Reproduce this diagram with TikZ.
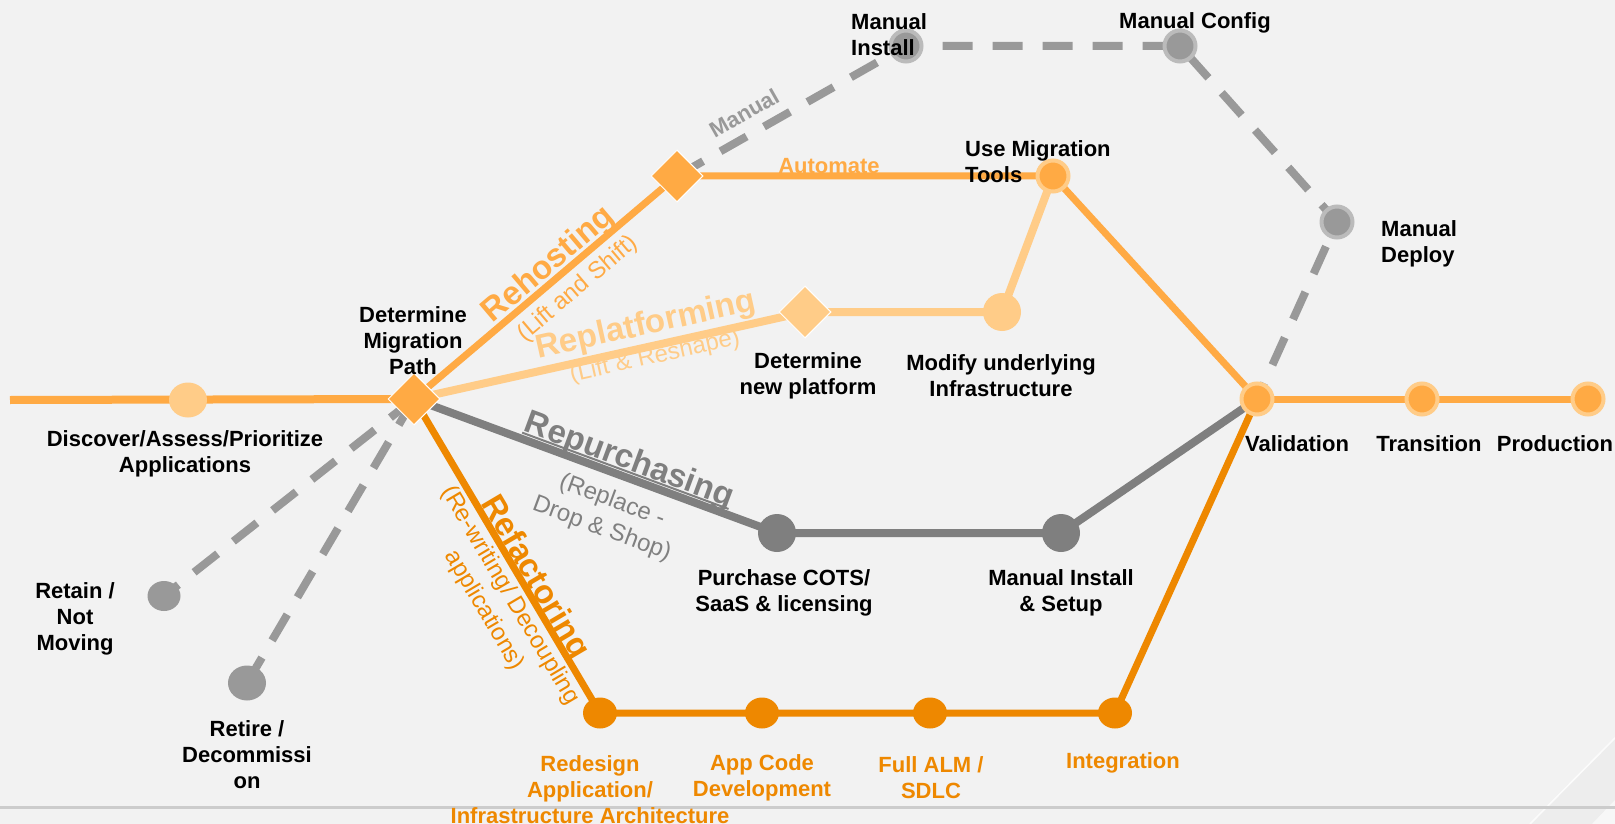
\documentclass[tikz,border=0pt]{standalone}
\usepackage{fontspec}
\setmainfont{Liberation Sans}
\usetikzlibrary{shapes.geometric}
\definecolor{bgc}{HTML}{F2F2F2}
\definecolor{orA}{HTML}{FFAA44}
\definecolor{orL}{HTML}{FFCC88}
\definecolor{orD}{HTML}{EE8800}
\definecolor{grP}{HTML}{7F7F7F}
\definecolor{grD}{HTML}{999999}
\definecolor{grR}{HTML}{BBBBBB}
\definecolor{subG}{HTML}{808080}
\definecolor{cornA}{HTML}{EDEDED}
\definecolor{cornB}{HTML}{F7F7F7}
\definecolor{baseL}{HTML}{CCCCCC}
\pgfdeclarelayer{bglayer}
\pgfdeclarelayer{lines}
\pgfsetlayers{bglayer,lines,main}
\newcommand\hul[1]{\setbox0=\hbox{#1}\rlap{\rule[-3pt]{\wd0}{2pt}}\box0}
\begin{document}
\begin{tikzpicture}[x=1pt,y=-1pt,
  lab/.style={font=\fontsize{22}{26}\selectfont\bfseries, align=center, inner sep=0pt},
  head/.style={font=\fontsize{33}{38}\selectfont\bfseries, inner sep=0pt},
  sub/.style={font=\fontsize{24}{30}\selectfont, align=center, inner sep=0pt},
  pathline/.style={line width=7pt},
  dashline/.style={line width=8pt, draw=grD, dash pattern=on 30pt off 20pt},
  diam/.style={diamond, aspect=1, minimum width=52pt, minimum height=52pt, inner sep=0pt, draw=white, line width=1pt},
  ringnode/.style={circle, minimum size=31pt, inner sep=0pt, line width=4pt},
  dot/.style={ellipse, inner sep=0pt},
]
\useasboundingbox (0,0) rectangle (1615,824);
\begin{pgfonlayer}{bglayer}
  \fill[bgc] (0,0) rectangle (1615,824);
  \fill[cornA] (1615,738) -- (1530,824) -- (1615,824) -- cycle;
  \fill[cornB] (1615,800) -- (1592,824) -- (1615,824) -- cycle;
  \draw[white, line width=1.5pt, opacity=0.8] (1615,738) -- (1530,824);
  \draw[line width=3pt, draw=baseL] (0,807) -- (1615,807);
\end{pgfonlayer}

% ---- nodes ----
\coordinate (start) at (10,400);
\node[dot, fill=orL, minimum width=38pt, minimum height=35pt] (disc) at (188,400) {};
\node[diam, fill=orA] (dmp) at (414,399) {};
\node[diam, fill=orA] (rh) at (677,176) {};
\node[diam, fill=orL] (np) at (805,312) {};
\node[circle, fill=orL, minimum size=38pt, inner sep=0pt] (modify) at (1002,312) {};
\node[ringnode, fill=orA, draw=orL] (tools) at (1053,176) {};
\node[ringnode, fill=grD, draw=grR] (minst) at (906,46) {};
\node[ringnode, fill=grD, draw=grR] (mconf) at (1180,46) {};
\node[ringnode, fill=grD, draw=grR] (mdep) at (1337,222) {};
\node[ringnode, fill=orA, draw=orL] (valid) at (1257,399) {};
\node[ringnode, fill=orA, draw=orL] (trans) at (1422,399) {};
\node[ringnode, fill=orA, draw=orL] (prod) at (1588,399) {};
\node[circle, fill=grP, minimum size=38pt, inner sep=0pt] (purch) at (777,533) {};
\node[circle, fill=grP, minimum size=38pt, inner sep=0pt] (msetup) at (1061,533) {};
\node[dot, fill=orD, minimum width=34pt, minimum height=31pt] (redes) at (600,713) {};
\node[dot, fill=orD, minimum width=34pt, minimum height=31pt] (appc) at (762,713) {};
\node[dot, fill=orD, minimum width=34pt, minimum height=31pt] (alm) at (930,713) {};
\node[dot, fill=orD, minimum width=34pt, minimum height=31pt] (integ) at (1115,713) {};
\node[dot, fill=grD, minimum width=33pt, minimum height=30pt] (retain) at (164,596) {};
\node[dot, fill=grD, minimum width=38pt, minimum height=35pt] (retire) at (247,683) {};

% ---- connectors ----
\begin{pgfonlayer}{lines}
  \draw[dashline] (dmp.center) -- (retain.center);
  \draw[dashline] (dmp.center) -- (retire.center);
  \draw[dashline] (rh.center) -- (minst.center) -- (mconf.center) -- (mdep.center) -- (valid.center);
  \draw[pathline, line width=8pt, orA] (start) -- (dmp.center);
  \draw[pathline, orL, line width=8pt] (dmp.center) -- (np.center) -- (modify.center) -- (tools.center);
  \draw[pathline, grP, line width=8pt] (dmp.center) -- (purch.center) -- (msetup.center) -- (valid.center);
  \draw[pathline, orD] (dmp.center) -- (redes.center) -- (appc.center) -- (alm.center) -- (integ.center) -- (valid.center);
  \draw[pathline, orA] (dmp.center) -- (rh.center) -- (tools.center) -- (valid.center);
  \draw[pathline, orA] (valid.center) -- (trans.center) -- (prod.center);
\end{pgfonlayer}

% ---- labels ----
\node[lab] (l-dmp) at (413,341) {Determine\\Migration\\Path};
\node[lab] (l-disc) at (185,454) {Discover/Assess/Prioritize\\Applications};
\node[lab] (l-retain) at (75,619) {Retain /\\Not\\Moving};
\node[lab] (l-retire) at (247,755) {Retire /\\Decommissi\\on};
\node[lab] (l-np) at (808,376) {Determine\\new platform};
\node[lab] (l-mod) at (1001,376) {Modify underlying\\Infrastructure};
\node[lab] (l-purch) at (784,593) {Purchase COTS/\\SaaS \& licensing};
\node[lab] (l-setup) at (1061,593) {Manual Install\\\& Setup};
\node[lab] (l-valid) at (1297,444) {Validation};
\node[lab] (l-trans) at (1429,444) {Transition};
\node[lab] (l-prod) at (1555,444) {Production};
\node[lab, align=left, anchor=west] (l-minst) at (851,35) {Manual\\Install};
\node[lab] (l-mconf) at (1195,23) {Manual Config};
\node[lab, align=left, anchor=west] (l-mdep) at (1381,244) {Manual\\Deploy};
\node[lab, align=left, anchor=west] (l-tools) at (965,162) {Use Migration\\Tools};
\node[lab, text=orA] (l-auto) at (829,166) {Automate};
\node[lab, text=grD, rotate=29.6] (l-manual) at (744,113) {Manual};
\node[lab, text=orD] (l-redes) at (590,790) {Redesign\\Application/\\Infrastructure Architecture};
\node[lab, text=orD] (l-appc) at (762,778) {App Code\\Development};
\node[lab, text=orD] (l-alm) at (931,778) {Full ALM /\\SDLC};
\node[lab, text=orD] (l-integ) at (1123,763) {Integration};

% ---- path headings ----
\node[head, text=orA, rotate=40.3] (h-rh) at (549,265) {Rehosting};
\node[sub, text=orA, rotate=40.3] (s-rh) at (578,289) {(Lift and Shift)};
\node[head, text=orL, rotate=12.5] (h-rp) at (646,326) {Replatforming};
\node[sub, text=orL, rotate=12.5] (s-rp) at (655,357) {(Lift \& Reshape)};
\node[head, text=grP, rotate=-20.3] (h-pu) at (629,461) {\hul{Repurchasing}};
\node[sub, text=subG, rotate=-20.3] (s-pu) at (607,515) {(Replace -\\Drop \& Shop)};
\node[head, text=orD, rotate=-59.4] (h-rf) at (534,578) {\hul{Refactoring}};
\node[sub, text=orD, rotate=-59.4] (s-rf) at (497,603) {(Re-writing/ Decoupling\\applications)};
\end{tikzpicture}
\end{document}
